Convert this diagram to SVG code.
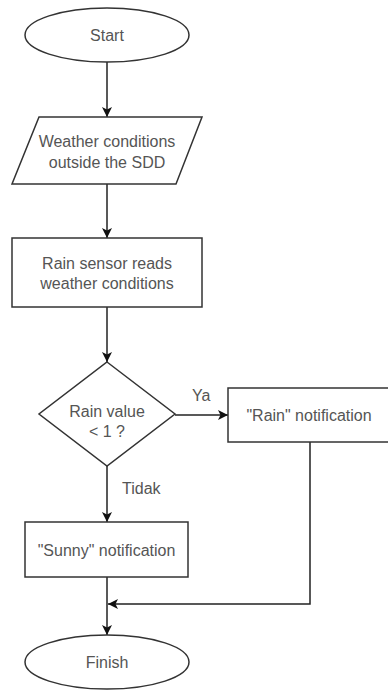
<svg xmlns="http://www.w3.org/2000/svg" width="388" height="698" viewBox="0 0 388 698">
<style>
.s{fill:#fff;stroke:#333;stroke-width:1.5}
.t{font-family:"Liberation Sans",Arial,sans-serif;font-size:16px;fill:#555;text-anchor:middle;dominant-baseline:central}
.c{fill:none;stroke:#222;stroke-width:1.5}
.l{font-family:"Liberation Sans",Arial,sans-serif;font-size:16px;fill:#555;dominant-baseline:central}
</style>
<defs>
<marker id="a" viewBox="0 0 10 10" refX="10" refY="5" markerWidth="10" markerHeight="10" markerUnits="userSpaceOnUse" orient="auto">
<path d="M0,0 L10,5 L0,10 L2.5,5 Z" fill="#111"/>
</marker>
</defs>
<rect width="388" height="698" fill="#fff"/>
<g id="connectors">
<path class="c" d="M107,62 V117" marker-end="url(#a)"/>
<path class="c" d="M107,184 V238" marker-end="url(#a)"/>
<path class="c" d="M107,307 V362" marker-end="url(#a)"/>
<path class="c" d="M175,415 H228" marker-end="url(#a)"/>
<path class="c" d="M107,466 V522" marker-end="url(#a)"/>
<path class="c" d="M107,577 V635" marker-end="url(#a)"/>
<path class="c" d="M310,442 V604 H108" marker-end="url(#a)"/>
<text class="l" x="192" y="395">Ya</text>
<text class="l" x="122" y="488">Tidak</text>
</g>
<g id="start">
<ellipse class="s" cx="107" cy="35" rx="82" ry="27"/>
<text class="t" x="107" y="35">Start</text>
</g>
<g id="input">
<path class="s" d="M39,117 H202 L176,184 H12 Z"/>
<text class="t" x="107" y="141">Weather conditions</text>
<text class="t" x="107" y="162">outside the SDD</text>
</g>
<g id="sensor">
<rect class="s" x="12" y="238" width="190" height="69"/>
<text class="t" x="107" y="263">Rain sensor reads</text>
<text class="t" x="107" y="283">weather conditions</text>
</g>
<g id="decision">
<path class="s" d="M107,362 L175,414 L107,466 L39,414 Z"/>
<text class="t" x="107" y="411">Rain value</text>
<text class="t" x="107" y="431">&lt; 1 ?</text>
</g>
<g id="rain">
<rect class="s" x="228" y="388" width="164" height="54"/>
<text class="t" x="309" y="415">"Rain" notification</text>
</g>
<g id="sunny">
<rect class="s" x="25" y="522" width="163" height="55"/>
<text class="t" x="106.5" y="550">"Sunny" notification</text>
</g>
<g id="finish">
<ellipse class="s" cx="107" cy="662" rx="82" ry="27"/>
<text class="t" x="107" y="662">Finish</text>
</g>
</svg>
